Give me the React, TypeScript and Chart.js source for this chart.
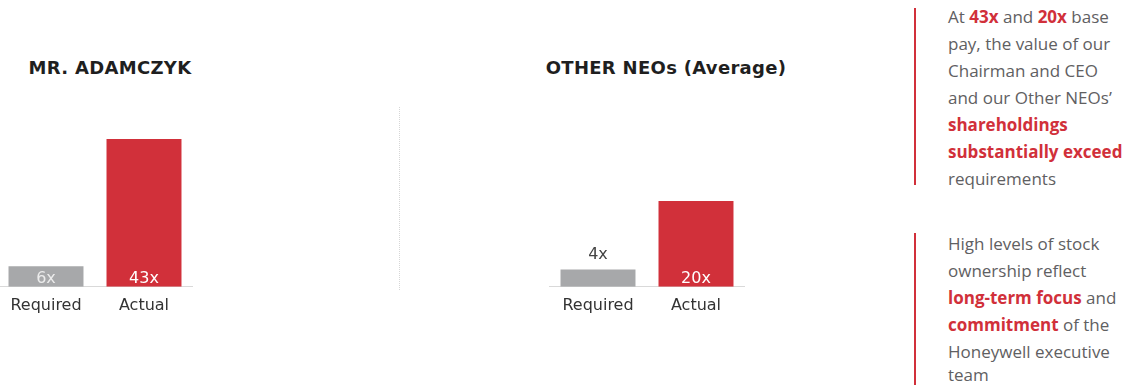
import React, { useEffect, useRef } from "react";
import { Chart, registerables } from "chart.js";

Chart.register(...registerables);

// ---- Data ----
const categories = ["Required", "Actual"];
const adamczykValues = [6, 43];
const otherNeoValues = [4, 20];
const chartTitles = ["MR. ADAMCZYK", "OTHER NEOs (Average)"];
const adamczykAxisMax = 50;
const otherNeoAxisMax = 40;

// ---- Styles ----
const RED = "#D1303A";
const GREY = "#A7A8AA";
const barColors = [GREY, RED];

const valueLabelPlugin = {
  id: "valueLabels",
  afterDatasetsDraw(chart: any, _args: any, opts: any) {
    const ctx = chart.ctx;
    const meta = chart.getDatasetMeta(0);
    const data = chart.data.datasets[0].data as number[];
    meta.data.forEach((bar: any, i: number) => {
      const { x, y, base } = bar.getProps(["x", "y", "base"], true);
      const pos = opts.positions[i];
      ctx.save();
      ctx.font = "16px 'DejaVu Sans'";
      ctx.fillStyle = opts.colors[i];
      ctx.textAlign = "center";
      ctx.textBaseline = "middle";
      const ty = pos === "above" ? y - 15 : base - 8;
      ctx.fillText(`${data[i]}x`, x, ty);
      ctx.restore();
    });
  },
};

type PanelProps = {
  values: number[];
  max: number;
  title: string;
  titleCenter: number;
  left: number;
  width: number;
  positions: string[];
  labelColors: string[];
};

const CANVAS_TOP = 100;
const CANVAS_H = 224;

function BarPanel(p: PanelProps) {
  const ref = useRef<HTMLCanvasElement | null>(null);
  useEffect(() => {
    if (!ref.current) return;
    const chart = new Chart(ref.current, {
      type: "bar",
      data: {
        labels: categories,
        datasets: [
          {
            data: p.values,
            backgroundColor: barColors,
            borderWidth: 0,
            barPercentage: 0.765,
            categoryPercentage: 1,
          },
        ],
      },
      plugins: [valueLabelPlugin],
      options: {
        responsive: false,
        animation: false,
        layout: { padding: { left: 0, right: 0, top: 15, bottom: 0 } },
        scales: {
          x: {
            grid: { display: false, drawTicks: false, tickLength: 0 },
            border: { display: true, color: "#d9d9d9", width: 1 },
            ticks: {
              padding: 9,
              color: "#333333",
              font: { family: "'DejaVu Sans'", size: 16 },
            },
          },
          y: { display: false, min: 0, max: p.max },
        },
        plugins: {
          legend: { display: false },
          tooltip: { enabled: false },
          title: { display: false },
          valueLabels: { positions: p.positions, colors: p.labelColors },
        } as any,
      },
    });
    return () => chart.destroy();
  }, []);
  return (
    <>
      <div
        style={{
          position: "absolute",
          left: p.titleCenter - 150,
          width: 300,
          top: 57,
          lineHeight: "22px",
          textAlign: "center",
          fontFamily: "'DejaVu Sans'",
          fontWeight: 700,
          fontSize: 18,
          letterSpacing: "0.3px",
          color: "#1f1f1f",
          whiteSpace: "nowrap",
        }}
      >
        {p.title}
      </div>
      <canvas
        ref={ref}
        width={p.width}
        height={CANVAS_H}
        style={{ position: "absolute", left: p.left, top: CANVAS_TOP, width: p.width, height: CANVAS_H }}
      />
    </>
  );
}

const red = (t: string) => <span style={{ color: RED, fontWeight: 700 }}>{t}</span>;

export default function App() {
  const textStyle: React.CSSProperties = {
    position: "absolute",
    left: 948,
    fontFamily: "'Open Sans'",
    fontSize: 17,
    lineHeight: "27px",
    color: "#5f6062",
    whiteSpace: "nowrap",
  };
  return (
    <div
      style={{
        position: "fixed",
        left: 0,
        top: 0,
        width: 1139,
        height: 385,
        background: "#fff",
        overflow: "hidden",
      }}
    >
      <BarPanel
        values={adamczykValues}
        max={adamczykAxisMax}
        title={chartTitles[0]}
        titleCenter={110}
        left={-3}
        width={196}
        positions={["inside", "inside"]}
        labelColors={["#ececec", "#ffffff"]}
      />
      <div
        style={{
          position: "absolute",
          left: 399,
          top: 107,
          height: 183,
          borderLeft: "1px dotted #d6d6d6",
        }}
      />
      <BarPanel
        values={otherNeoValues}
        max={otherNeoAxisMax}
        title={chartTitles[1]}
        titleCenter={666}
        left={549}
        width={196}
        positions={["above", "inside"]}
        labelColors={["#444444", "#ffffff"]}
      />
      <div style={{ position: "absolute", left: 914, top: 8, width: 2, height: 177, background: RED }} />
      <div style={{ ...textStyle, top: 2.5 }}>
        At {red("43x")} and {red("20x")} base
        <br />
        pay, the value of our
        <br />
        Chairman and CEO
        <br />
        and our Other NEOs’
        <br />
        {red("shareholdings")}
        <br />
        {red("substantially exceed")}
        <br />
        requirements
      </div>
      <div style={{ position: "absolute", left: 914, top: 233, width: 2, height: 152, background: RED }} />
      <div style={{ ...textStyle, top: 229.5 }}>
        High levels of stock
        <br />
        ownership reflect
        <br />
        {red("long-term focus")} and
        <br />
        {red("commitment")} of the
        <br />
        Honeywell executive
        <div style={{ lineHeight: "20px" }}>team</div>
      </div>
    </div>
  );
}
